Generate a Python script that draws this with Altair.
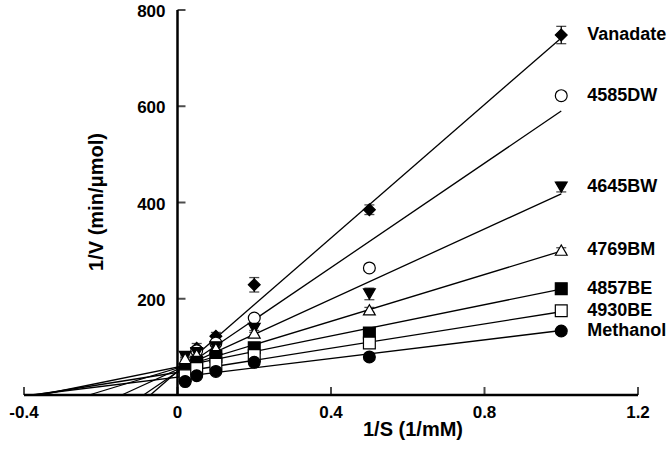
import altair as alt
import pandas as pd

# 1/[S] values (1/mM) shared by every series
inv_s = [0.02, 0.05, 0.1, 0.2, 0.5, 1.0]

series = ["Vanadate", "4585DW", "4645BW", "4769BM", "4857BE", "4930BE", "Methanol"]

# 1/V (min/µmol), one list per series, in the order of inv_s
inv_v = {
    "Vanadate": [32, 97, 122, 229, 385, 748],
    "4585DW":   [48, 92, 108, 160, 264, 622],
    "4645BW":   [80, 88, 100, 138, 210, 432],
    "4769BM":   [76, 84, 97, 129, 177, 301],
    "4857BE":   [52, 68, 80, 98, 129, 221],
    "4930BE":   [40, 55, 64, 82, 108, 175],
    "Methanol": [28, 40, 49, 68, 79, 133],
}

# standard error of each point
sem = {
    "Vanadate": [3, 10, 8, 15, 10, 18],
    "4585DW":   [3, 8, 5, 6, 6, 8],
    "4645BW":   [3, 5, 5, 8, 12, 10],
    "4769BM":   [3, 4, 4, 5, 5, 5],
    "4857BE":   [3, 4, 5, 6, 5, 4],
    "4930BE":   [3, 3, 4, 4, 4, 4],
    "Methanol": [2, 3, 3, 3, 4, 4],
}

# Lineweaver-Burk fits: 1/V = slope * 1/S + intercept
slope = [693, 542, 365, 243, 162, 126, 97]
intercept = [49, 48, 53, 56, 58, 47, 37]

shapes = ["diamond", "circle", "triangle-down", "triangle-up", "square", "square", "circle"]
fills = ["black", "white", "black", "white", "black", "white", "black"]

x_ticks = [-0.4, 0, 0.4, 0.8, 1.2]
x_tick_labels = ["-0.4", "0", "0.4", "0.8", "1.2"]
y_ticks = [200, 400, 600, 800]
y_tick_labels = ["200", "400", "600", "800"]

FONT = "Liberation Sans"
W, H = 614, 385

# ---- tables built from the lists above ----
rows = []
for s in series:
    for x, y, e in zip(inv_s, inv_v[s], sem[s]):
        rows.append({"series": s, "x": x, "y": y, "lo": y - e, "hi": y + e})
points = pd.DataFrame(rows)

fit_rows = []
for s, m, b in zip(series, slope, intercept):
    x0 = max(-b / m, x_ticks[0])
    fit_rows.append({"series": s, "x0": x0, "y0": m * x0 + b,
                     "x1": inv_s[-1], "y1": m * inv_s[-1] + b})
fits = pd.DataFrame(fit_rows)

labels = pd.DataFrame({"series": series, "x": [inv_s[-1]] * len(series),
                       "y": [inv_v[s][-1] for s in series]})

xframe = pd.DataFrame({"x0": [x_ticks[0]], "x1": [x_ticks[-1]], "y": [0]})
yframe = pd.DataFrame({"x": [0], "y0": [0], "y1": [y_ticks[-1]]})
xt = pd.DataFrame({"t": x_ticks, "lab": x_tick_labels, "zero": 0})
yt = pd.DataFrame({"t": y_ticks, "lab": y_tick_labels, "zero": 0})

XS = alt.Scale(domain=[x_ticks[0], x_ticks[-1]], nice=False, zero=False)
YS = alt.Scale(domain=[0, y_ticks[-1]], nice=False, zero=False)


def X(f):
    return alt.X(f, type="quantitative", scale=XS, axis=None)


def Y(f):
    return alt.Y(f, type="quantitative", scale=YS, axis=None)


shape_enc = alt.Shape("series:N", scale=alt.Scale(domain=series, range=shapes), legend=None)
fill_enc = alt.Fill("series:N", scale=alt.Scale(domain=series, range=fills), legend=None)

# axes drawn through the data origin
x_axis = alt.Chart(xframe).mark_rule(color="black", strokeWidth=2.5).encode(
    x=X("x0"), x2="x1", y=Y("y"))
y_axis = alt.Chart(yframe).mark_rule(color="black", strokeWidth=2.5).encode(
    x=X("x"), y=Y("y0"), y2="y1")
x_tick_marks = alt.Chart(xt).mark_tick(
    orient="vertical", size=8, thickness=2, color="black", yOffset=-4).encode(
    x=X("t"), y=Y("zero"))
y_tick_marks = alt.Chart(yt).mark_tick(
    orient="horizontal", size=8, thickness=2, color="black", xOffset=4).encode(
    x=X("zero"), y=Y("t"))
x_tick_text = alt.Chart(xt).mark_text(
    font=FONT, fontWeight="bold", fontSize=17, baseline="alphabetic", dy=23,
    color="black").encode(x=X("t"), y=Y("zero"), text="lab")
y_tick_text = alt.Chart(yt).mark_text(
    font=FONT, fontWeight="bold", fontSize=17, align="right", baseline="middle",
    dx=-12, dy=2, color="black").encode(x=X("zero"), y=Y("t"), text="lab")

x_title = alt.Chart(pd.DataFrame({"t": ["1/S (1/mM)"]})).mark_text(
    font=FONT, fontWeight="bold", fontSize=20, baseline="alphabetic",
    color="black").encode(x=alt.value(389), y=alt.value(426), text="t")
y_title = alt.Chart(pd.DataFrame({"t": ["1/V (min/μmol)"]})).mark_text(
    font=FONT, fontWeight="bold", fontSize=20, angle=270, baseline="middle",
    color="black").encode(x=alt.value(73), y=alt.value(192), text="t")

fit_lines = alt.Chart(fits).mark_rule(color="black", strokeWidth=1.3).encode(
    x=X("x0"), y=Y("y0"), x2="x1", y2="y1")

err_bars = alt.Chart(points).mark_rule(color="black", strokeWidth=1.3).encode(
    x=X("x"), y=Y("lo"), y2="hi")
err_caps_hi = alt.Chart(points).mark_tick(
    orient="horizontal", size=10, thickness=1.3, color="black").encode(
    x=X("x"), y=Y("hi"))
err_caps_lo = alt.Chart(points).mark_tick(
    orient="horizontal", size=10, thickness=1.3, color="black").encode(
    x=X("x"), y=Y("lo"))

markers = alt.Chart(points).mark_point(
    size=140, filled=False, stroke="black", strokeWidth=1.2, opacity=1).encode(
    x=X("x"), y=Y("y"), shape=shape_enc, fill=fill_enc)

series_text = alt.Chart(labels).mark_text(
    font=FONT, fontWeight="bold", fontSize=18, align="left", baseline="middle",
    dx=26, color="black").encode(x=X("x"), y=Y("y"), text="series")

chart = alt.layer(
    fit_lines, x_axis, y_axis, x_tick_marks, y_tick_marks,
    err_bars, err_caps_hi, err_caps_lo, markers,
    x_tick_text, y_tick_text, x_title, y_title, series_text,
).properties(
    width=W, height=H,
    autosize=alt.AutoSizeParams(type="none"),
    padding={"left": 24, "top": 10, "right": 34, "bottom": 68},
    background="white",
).configure_view(stroke="transparent")

chart.save("out.html", embed_options={"renderer": "svg", "actions": False})
